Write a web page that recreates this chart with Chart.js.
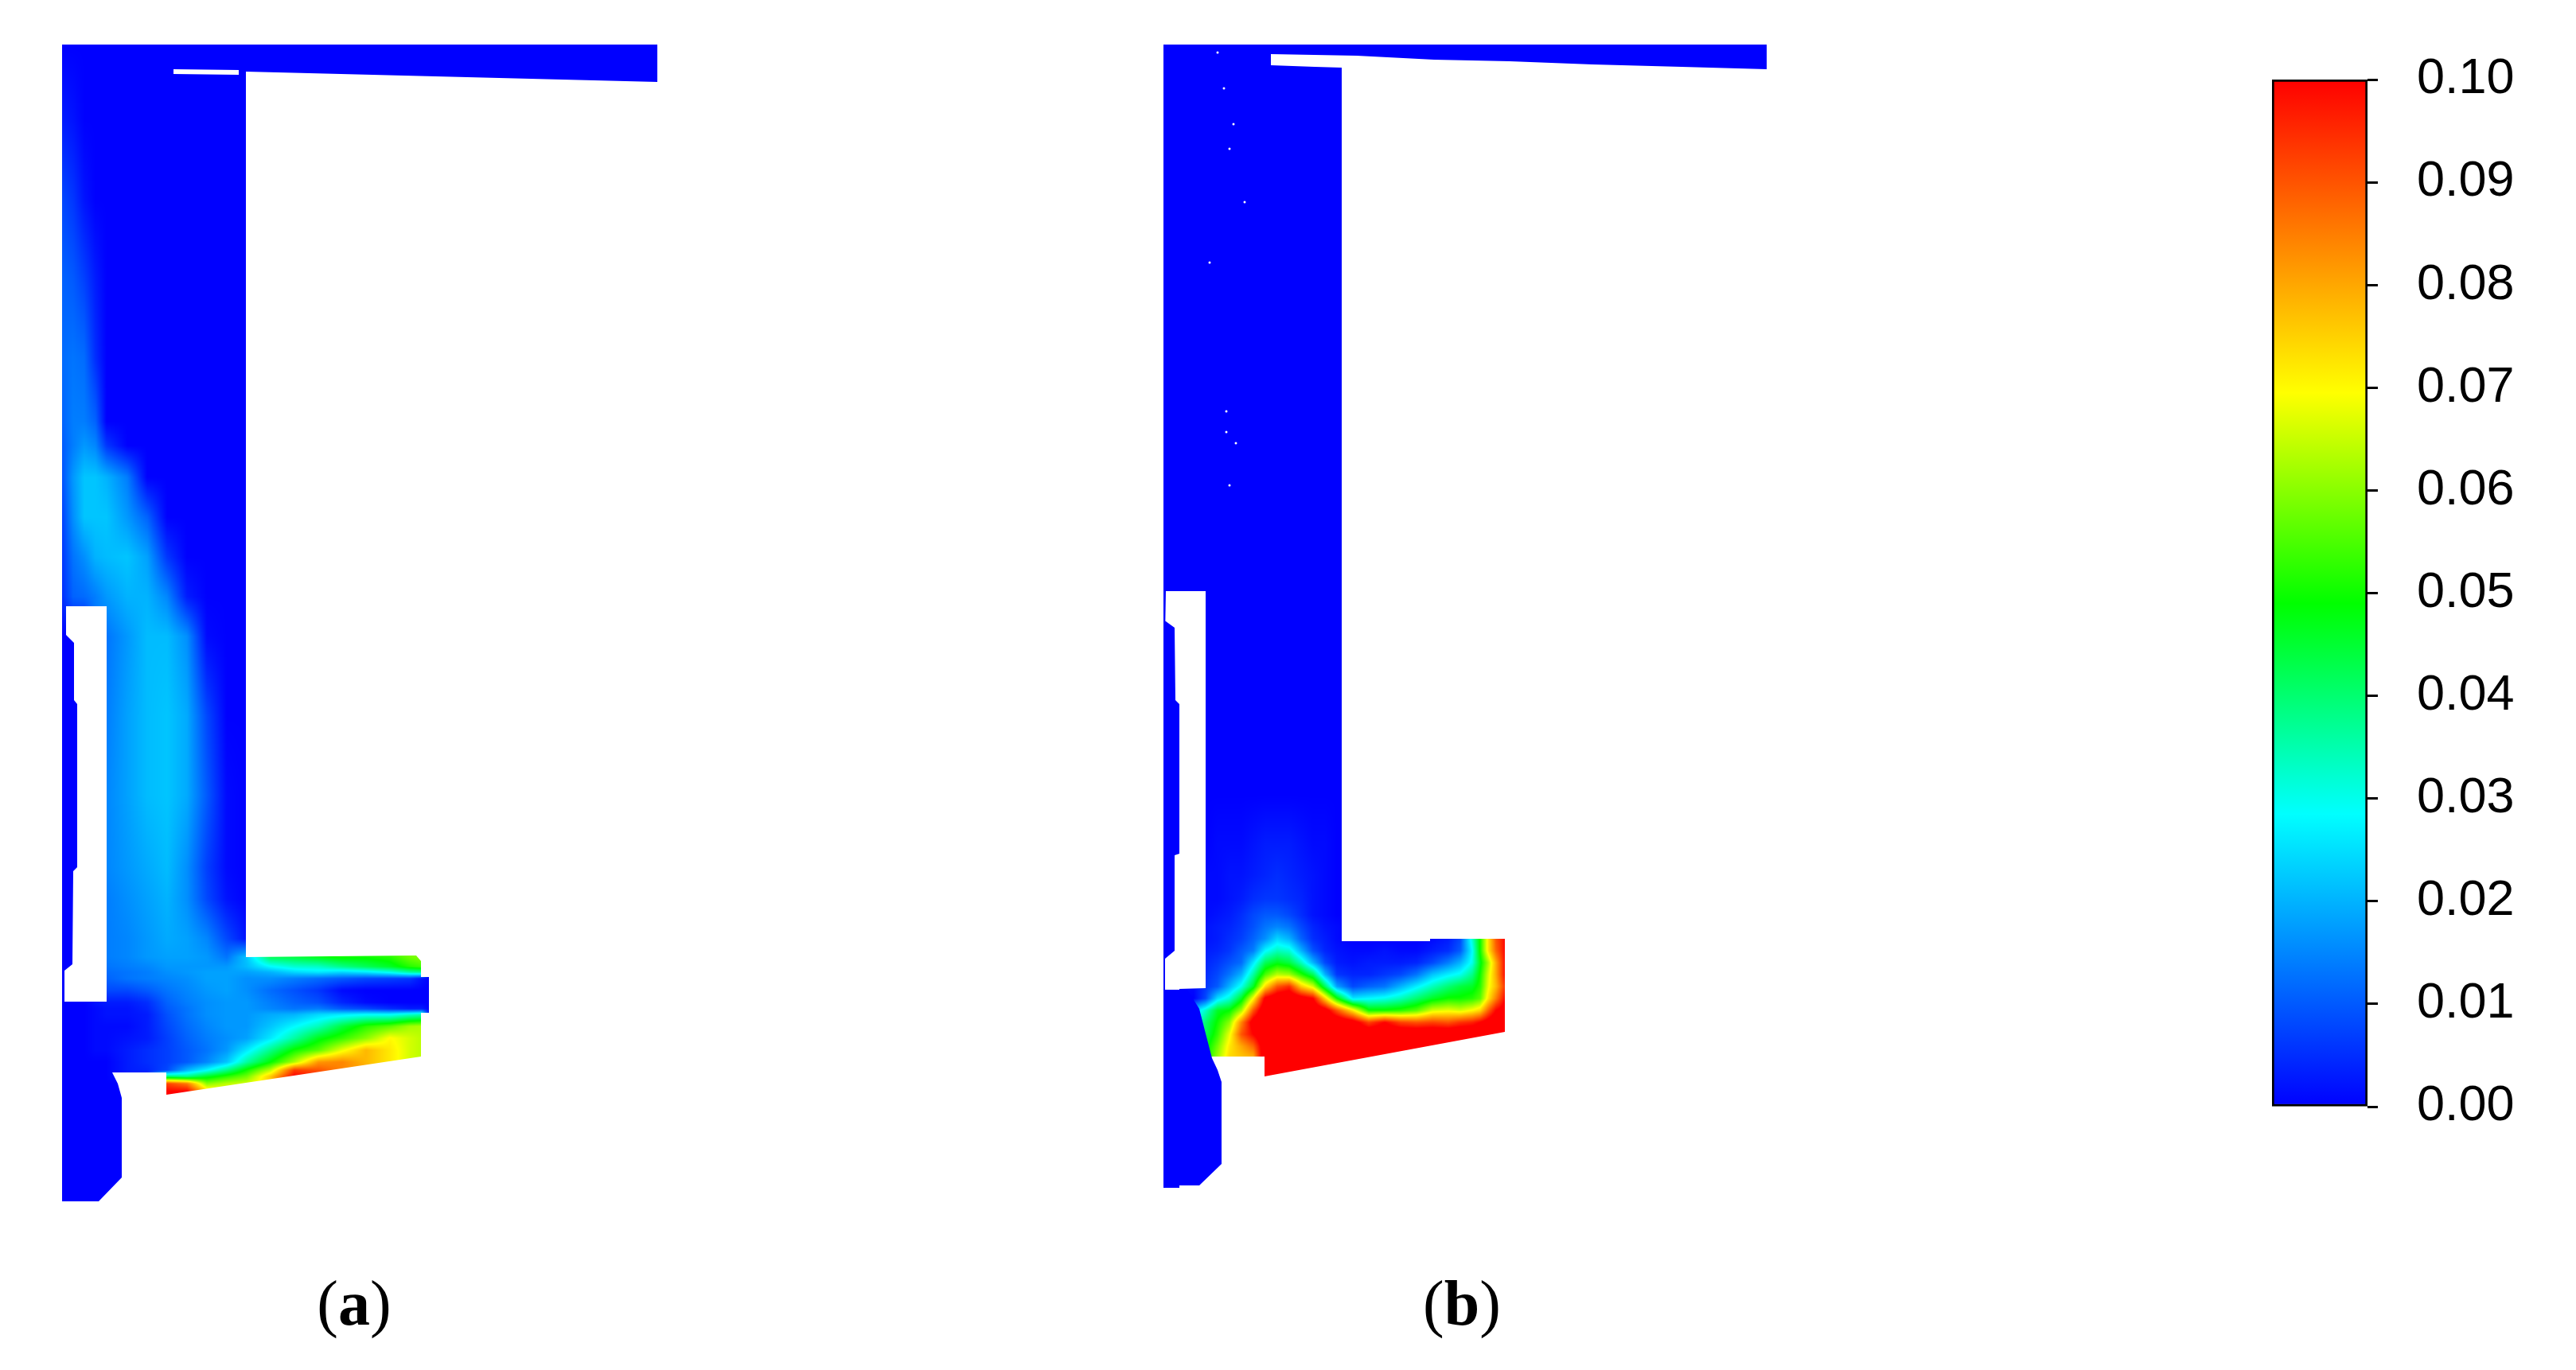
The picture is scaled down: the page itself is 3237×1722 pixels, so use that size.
<!DOCTYPE html>
<html>
<head>
<meta charset="utf-8">
<script src="https://cdn.jsdelivr.net/npm/chart.js@4"></script>
<style>
    html, body { margin: 0; background: #fff; overflow: hidden; }
    body { width: 3237px; height: 1722px; position: relative; }
    canvas { position: absolute; }
    .caption { position: absolute; top: 1592px; width: 200px; text-align: center; color: #000;
               font: 80px/92px "Liberation Serif", serif; }
</style>
</head>
<body>
<canvas id="panel-a" style="left:60px;top:40px"></canvas>
<canvas id="panel-b" style="left:1440px;top:40px"></canvas>
<canvas id="colorbar" style="left:2800px;top:40px"></canvas>
<div class="caption" style="left:345px">(<b>a</b>)</div>
<div class="caption" style="left:1737px">(<b>b</b>)</div>
<script>
// colour scale
const barTicks = [0, 0.01, 0.02, 0.03, 0.04, 0.05, 0.06, 0.07, 0.08, 0.09, 0.10];
const stopValues = [0, 0.0285, 0.049, 0.0695, 0.10];
const stopColors = [[0, 0, 255], [0, 255, 255], [0, 255, 0], [255, 255, 0], [255, 0, 0]];

// panel (a): field, in thousandths, rows may stop early (rest is 0)
const colsA = [78, 92, 106, 120, 134, 160, 185, 210, 235, 260, 285, 310, 340, 370, 400, 430, 460, 490, 515, 530, 540];
const rowsA = [60, 150, 250, 350, 450, 530, 560, 600, 650, 700, 750, 800, 900, 1000, 1090, 1130,
               1180, 1203, 1215, 1222, 1230, 1245, 1260, 1268, 1275, 1290, 1305, 1320, 1335, 1345, 1353, 1362, 1372];
const fieldA = [
    [0],
    [3, 2],
    [8, 6, 2],
    [11, 10, 7, 3],
    [12, 13, 12, 5],
    [11, 14, 14, 11],
    [10, 14, 17, 15, 6],
    [9, 17, 22, 22, 20, 14],
    [7, 16, 22, 22, 22, 17, 11],
    [6, 13, 16, 20, 21, 22, 18, 6],
    [5, 11, 12, 14, 17, 20, 20, 15, 3],
    [0, 0, 0, 13, 13, 17, 21, 21, 16, 1],
    [0, 0, 0, 14, 14, 18, 21, 22, 19, 8],
    [0, 0, 0, 15, 15, 18, 21, 22, 19, 10, 1],
    [0, 0, 0, 15, 15, 17, 19, 21, 16, 7, 1],
    [0, 0, 0, 14, 14, 16, 18, 20, 16, 8, 2],
    [0, 0, 0, 14, 14, 15, 17, 19, 18, 15, 8, 2, 42, 44, 47, 50, 50, 52, 58, 60],
    [0, 0, 0, 14, 14, 15, 17, 18, 18, 17, 13, 22, 42, 44, 47, 50, 50, 52, 58, 60],
    [0, 0, 0, 12, 13, 14, 15, 17, 17, 17, 17, 21, 28, 32, 33, 38, 42, 46, 52, 54],
    [0, 0, 0, 11, 12, 13, 14, 16, 17, 18, 18, 18, 20, 24, 26, 24, 26, 30, 36, 38],
    [0, 0, 0, 11, 11, 13, 14, 15, 16, 18, 18, 16, 16, 14, 12, 10, 8, 7, 6, 2],
    [0, 0, 0, 8, 8, 8, 10, 13, 15, 17, 18, 16, 12, 9, 6, 1],
    [0, 0, 0, 2, 3, 3, 5, 11, 14, 16, 17, 17, 14, 11, 9, 4, 1],
    [0, 0, 0, 1, 2, 2, 4, 10, 13, 16, 17, 17, 15, 13, 14, 10, 8, 5, 3, 3],
    [0, 0, 0, 1, 2, 2, 3, 9, 13, 16, 17, 17, 19, 20, 24, 26, 28, 28, 32, 34],
    [0, 0, 0, 1, 1, 1, 3, 8, 12, 15, 17, 17, 22, 28, 34, 44, 52, 56, 62, 63],
    [0, 0, 0, 1, 1, 2, 3, 7, 11, 14, 16, 18, 26, 36, 47, 53, 60, 70, 66, 64],
    [0, 0, 0, 1, 1, 3, 5, 7, 10, 13, 17, 26, 38, 50, 56, 68, 78, 72, 66, 64],
    [0, 0, 0, 0, 0, 3, 5, 7, 10, 15, 22, 36, 49, 63, 82, 84, 78, 72, 66, 64],
    [0, 0, 0, 0, 0, 3, 4, 8, 20, 28, 38, 50, 64, 93, 90, 84, 80, 72, 66, 64],
    [0, 0, 0, 0, 0, 3, 4, 40, 38, 46, 52, 58, 76, 100, 95, 90, 80, 72, 66, 64],
    [0, 0, 0, 0, 0, 0, 0, 92, 85, 60, 64, 66, 76, 100, 95, 90],
    [0, 0, 0, 0, 0, 0, 0, 100, 100, 75, 70, 70, 76, 100]
];
const outlineA = [[78, 56], [826, 56], [826, 103], [309, 90], [309, 1203], [523, 1201], [529, 1208], [529, 1228], [539, 1228],
    [539, 1273], [529, 1273], [529, 1328], [209, 1376], [209, 1348], [141, 1348], [148, 1362], [153, 1380], [153, 1480],
    [124, 1510], [78, 1510]];
const holeA = [[83, 762], [134, 762], [134, 1259], [81, 1259], [81, 1220], [83, 795]];
const notchA = [[218, 87], [300, 88], [300, 94], [218, 93]];
const stripA = [[78, 795], [83, 798], [93, 808], [93, 880], [97, 885], [97, 1090], [92, 1095], [91, 1212], [81, 1220], [78, 1220]];

// panel (b)
const colsB = [1462, 1500, 1515, 1530, 1545, 1560, 1575, 1590, 1605, 1620, 1635, 1650, 1665, 1680,
               1700, 1720, 1740, 1760, 1780, 1800, 1820, 1835, 1850, 1860, 1870, 1880, 1892];
const rowsB = [1000, 1060, 1100, 1130, 1150, 1165, 1180, 1195, 1210, 1225, 1240, 1255, 1270, 1285, 1300, 1315, 1330];
const fieldB = [
    [0],
    [0, 0, 0, 1, 1, 1, 2, 3, 3, 3, 2, 1, 1],
    [0, 0, 1, 1, 2, 2, 3, 4, 5, 4, 3, 2, 1],
    [0, 0, 1, 1, 2, 3, 5, 6, 6, 5, 4, 2, 1],
    [0, 0, 1, 2, 3, 5, 8, 10, 10, 8, 5, 2, 1],
    [0, 0, 2, 3, 4, 6, 9, 13, 15, 13, 8, 4, 2, 1],
    [0, 0, 2, 3, 5, 7, 11, 16, 24, 20, 11, 5, 3, 1, 0, 0, 0, 0, 0, 1, 3, 8, 32, 50, 72, 90, 100],
    [0, 0, 3, 4, 6, 10, 14, 28, 34, 32, 20, 9, 4, 2, 1, 1, 2, 1, 1, 3, 5, 10, 28, 50, 72, 88, 100],
    [0, 0, 4, 6, 9, 12, 26, 42, 47, 44, 34, 20, 8, 3, 2, 3, 3, 3, 4, 8, 14, 20, 30, 47, 62, 80, 100],
    [0, 0, 5, 8, 13, 20, 36, 55, 64, 62, 52, 42, 20, 6, 4, 4, 6, 8, 13, 22, 27, 30, 38, 50, 66, 80, 100],
    [0, 1, 6, 10, 20, 30, 46, 74, 90, 95, 76, 66, 42, 18, 8, 11, 13, 20, 27, 34, 40, 44, 46, 52, 68, 78, 95],
    [0, 0, 8, 25, 32, 46, 70, 102, 108, 110, 105, 100, 75, 50, 26, 28, 30, 34, 40, 46, 50, 50, 52, 56, 72, 85, 100],
    [0, 22, 33, 46, 49, 62, 90, 110, 110, 110, 110, 110, 105, 90, 72, 50, 50, 52, 56, 66, 68, 66, 70, 74, 88, 100, 105],
    [0, 28, 40, 50, 60, 84, 105, 110, 110, 110, 110, 110, 110, 110, 105, 92, 100, 92, 90, 92, 90, 94, 96, 100, 105, 110, 110],
    [0, 30, 42, 53, 68, 90, 100, 110, 110, 110, 110, 110, 110, 110, 110, 110, 110, 110, 110, 110, 110, 110, 110, 110, 110, 110, 110],
    [0, 32, 46, 58, 72, 80, 88, 108, 110, 110, 110, 110, 110, 110, 110, 110, 110, 110, 110, 110, 110, 110, 110, 110, 110, 110, 110],
    [0, 34, 48, 62, 74, 76, 78, 110, 110, 110, 110, 110, 110, 110, 110, 110, 110, 110, 110, 110, 110, 110, 110, 110, 110, 110, 110]
];
const outlineB = [[1462, 56], [2220, 56], [2220, 87], [2113, 84], [2001, 81], [1897, 77], [1802, 75], [1705, 70], [1597, 68],
    [1597, 82], [1652, 84], [1686, 85], [1686, 1183], [1797, 1183], [1797, 1180], [1891, 1180], [1891, 1297], [1589, 1353],
    [1589, 1328], [1523, 1328], [1462, 1328]];
const holeB = [[1465, 743], [1515, 743], [1515, 1242], [1482, 1243], [1482, 1245], [1464, 1245], [1464, 800]];
const stripB = [[1462, 780], [1465, 781], [1476, 789], [1477, 880], [1482, 885], [1482, 1073], [1476, 1075], [1476, 1195], [1464, 1205], [1462, 1205]];
const columnB = [[1462, 1244], [1492, 1244], [1507, 1268], [1523, 1330], [1530, 1345], [1535, 1360], [1535, 1463], [1507, 1490],
    [1482, 1490], [1482, 1493], [1462, 1493]];
const specksB = [[1530, 66], [1538, 111], [1550, 156], [1545, 187], [1564, 254], [1520, 330], [1541, 517], [1541, 543], [1553, 557], [1545, 610]];

const BLUE = '#0000ff';

function colorFor(v) {
    if (v >= stopValues[4]) return stopColors[4];
    let i = 0;
    while (v > stopValues[i + 1]) i++;
    const t = Math.max(0, (v - stopValues[i]) / (stopValues[i + 1] - stopValues[i]));
    return stopColors[i].map((c, k) => c + (stopColors[i + 1][k] - c) * t);
}

function bracket(list, v) {
    if (v <= list[0]) return [0, 0, 0];
    const last = list.length - 1;
    if (v >= list[last]) return [last, last, 0];
    let i = 0;
    while (v > list[i + 1]) i++;
    return [i, i + 1, (v - list[i]) / (list[i + 1] - list[i])];
}

// shade the read-off grid into a pattern that the outline dataset is filled with
function fieldPattern(chart, cols, rows, field) {
    if (!chart.chartArea) return BLUE; // options get resolved once before the scales are laid out
    if (chart.$pattern) return chart.$pattern;
    const off = document.createElement('canvas');
    off.width = chart.width;
    off.height = chart.height;
    const c = off.getContext('2d');
    const img = c.createImageData(off.width, off.height);
    const xs = [];
    for (let px = 0; px < off.width; px++) xs.push(bracket(cols, chart.scales.x.getValueForPixel(px + 0.5)));
    let p = 0;
    for (let py = 0; py < off.height; py++) {
        const [r0, r1, tr] = bracket(rows, chart.scales.y.getValueForPixel(py + 0.5));
        for (let px = 0; px < off.width; px++) {
            const [c0, c1, tc] = xs[px];
            const top = (field[r0][c0] || 0) * (1 - tc) + (field[r0][c1] || 0) * tc;
            const bot = (field[r1][c0] || 0) * (1 - tc) + (field[r1][c1] || 0) * tc;
            const rgb = colorFor((top * (1 - tr) + bot * tr) / 1000);
            img.data[p++] = rgb[0];
            img.data[p++] = rgb[1];
            img.data[p++] = rgb[2];
            img.data[p++] = 255;
        }
    }
    c.putImageData(img, 0, 0);
    chart.$pattern = chart.ctx.createPattern(off, 'no-repeat');
    return chart.$pattern;
}

function shape(points, color, order) {
    return {
        data: points.map(([x, y]) => ({ x, y })),
        backgroundColor: color,
        fill: 'shape',
        borderWidth: 0,
        pointRadius: 0,
        tension: 0,
        order: order
    };
}

function drawPanel(id, left, cols, rows, field, datasets) {
    const canvas = document.getElementById(id);
    canvas.width = 800;
    canvas.height = 1500;
    new Chart(canvas, {
        type: 'line',
        data: {
            datasets: [
                shape(datasets.outline, c => fieldPattern(c.chart, cols, rows, field), 5),
                ...datasets.holes.map(h => shape(h, '#ffffff', 4)),
                ...datasets.solid.map(s => shape(s, BLUE, 3)),
                ...datasets.specks
            ]
        },
        options: {
            responsive: false,
            animation: false,
            devicePixelRatio: 1,
            layout: { padding: 0, autoPadding: false },
            plugins: { legend: false, title: false, tooltip: false },
            scales: {
                x: { type: 'linear', display: false, min: left, max: left + 800 },
                y: { type: 'linear', display: false, reverse: true, min: 40, max: 1540 }
            }
        }
    });
}

drawPanel('panel-a', 60, colsA, rowsA, fieldA, {
    outline: outlineA,
    holes: [holeA, notchA],
    solid: [stripA],
    specks: []
});

drawPanel('panel-b', 1440, colsB, rowsB, fieldB, {
    outline: outlineB,
    holes: [holeB],
    solid: [stripB, columnB],
    specks: [{
        data: specksB.map(([x, y]) => ({ x, y })),
        showLine: false,
        pointRadius: 1.5,
        pointBorderWidth: 0,
        pointBackgroundColor: '#ffffff',
        order: 0
    }]
});

const barCanvas = document.getElementById('colorbar');
barCanvas.width = 375;
barCanvas.height = 1411;
new Chart(barCanvas, {
    type: 'bar',
    data: {
        labels: [''],
        datasets: [{
            data: [barTicks[barTicks.length - 1]],
            barPercentage: 1,
            categoryPercentage: 1,
            borderWidth: 3,
            borderColor: '#000',
            borderSkipped: false,
            backgroundColor: c => {
                const y = c.chart.scales.y;
                const g = c.chart.ctx.createLinearGradient(0, y.getPixelForValue(0), 0, y.getPixelForValue(0.1));
                stopValues.forEach((v, i) => g.addColorStop(v / 0.1, `rgb(${stopColors[i].join(',')})`));
                return g;
            }
        }]
    },
    options: {
        responsive: false,
        animation: false,
        devicePixelRatio: 1,
        layout: { padding: { left: 55, top: 60, bottom: 60, right: 0 }, autoPadding: false },
        plugins: { legend: false, title: false, tooltip: false },
        scales: {
            x: { display: false },
            y: {
                position: 'right',
                min: 0,
                max: 0.1,
                // tick padding would otherwise also push the plot in from top and bottom
                afterFit: s => { s.width = 200; s.paddingTop = 0; s.paddingBottom = 0; },
                afterBuildTicks: s => { s.ticks = barTicks.map(value => ({ value })); },
                border: { display: false },
                grid: { drawOnChartArea: false, tickLength: 13, tickWidth: 3, tickColor: '#000' },
                ticks: {
                    autoSkip: false,
                    padding: 49,
                    color: '#000',
                    font: { family: 'Liberation Sans', size: 63 },
                    callback: v => v.toFixed(2)
                }
            }
        }
    }
});
</script>
</body>
</html>
